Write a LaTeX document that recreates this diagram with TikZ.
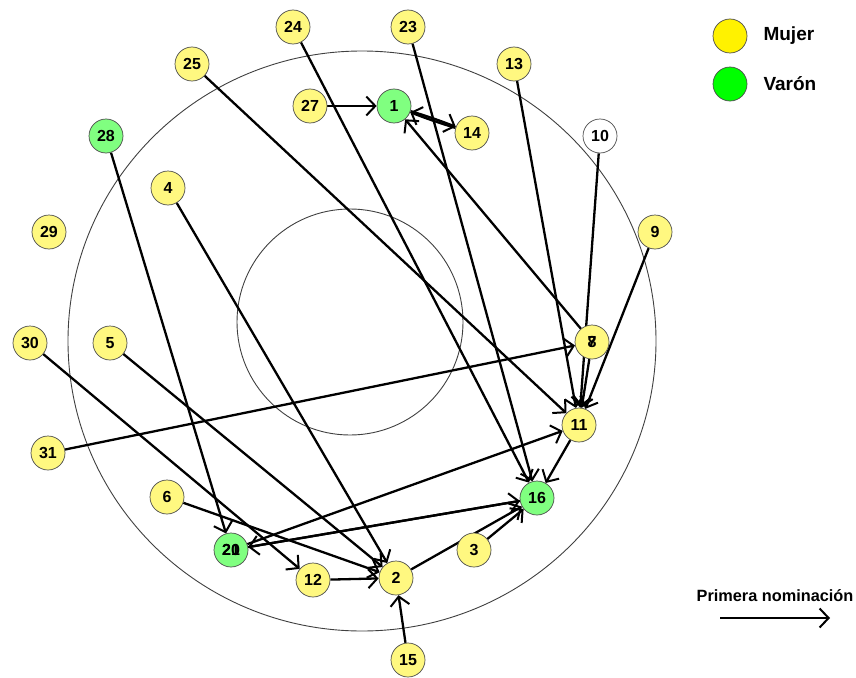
\documentclass[tikz,border=0pt]{standalone}
\usepackage{fontspec}
\setmainfont{Liberation Sans}
\usetikzlibrary{arrows.meta}
\pgfdeclarelayer{bg}
\pgfsetlayers{bg,main}
\tikzset{
  pers/.style={circle, draw=black!70, line width=0.7pt, minimum size=34pt,
    inner sep=0pt, font=\bfseries\fontsize{16}{16}\selectfont},
  fem/.style={pers, fill=yellow!50},
  mas/.style={pers, fill=green!50},
  sinsexo/.style={pers, fill=white},
  nom/.style={line width=2.3pt,
    -{Straight Barb[length=9pt,width=19pt,line width=2pt]}},
  ring/.style={draw=black!75, line width=0.9pt},
  legtxt/.style={anchor=west, font=\bfseries\fontsize{19}{19}\selectfont}
}
\begin{document}
\begin{tikzpicture}[x=1pt,y=-1pt]
\useasboundingbox (0,0) rectangle (856,677);

% people
\node[fem] (n24) at (293,27) {24};
\node[fem] (n23) at (408,27) {23};
\node[fem] (n25) at (192,64) {25};
\node[fem] (n13) at (514,64) {13};
\node[fem] (n27) at (310,106) {27};
\node[mas] (n1)  at (394,106) {1};
\node[fem] (n14) at (472,133) {14};
\node[sinsexo] (n10) at (600,136) {10};
\node[mas] (n28) at (106,136) {28};
\node[fem] (n4)  at (168,188) {4};
\node[fem] (n29) at (49,232) {29};
\node[fem] (n9)  at (655,232) {9};
\node[fem] (n30) at (30,343) {30};
\node[fem] (n5)  at (110,343) {5};
\node[fem] (n7)  at (592,342) {7};
\node[fem, fill=none, draw=none] (n8) at (592,342) {8};
\node[fem] (n11) at (579,425) {11};
\node[fem] (n31) at (48,453) {31};
\node[mas] (n16) at (537,498) {16};
\node[fem] (n6)  at (167,497) {6};
\node[mas] (n20) at (231,550) {20};
\node[mas, fill=none, draw=none] (n21) at (231,550) {21};
\node[fem] (n3)  at (474,550) {3};
\node[fem] (n12) at (313,580) {12};
\node[fem] (n2)  at (396,578) {2};
\node[fem] (n15) at (408,660) {15};

\begin{pgfonlayer}{bg}
% concentric rings
\draw[ring] (362,341) ellipse [x radius=294, y radius=290];
\draw[ring] (350,322) circle [radius=113];

% first nominations
\draw[nom] (n27) -- (n1);
\draw[nom] (n1) to[bend left=2] (n14);
\draw[nom] (n14) to[bend left=2] (n1);
\draw[nom] (n8) -- (n1);
\draw[nom] (n24) -- (n16);
\draw[nom] (n23) -- (n16);
\draw[nom] (n25) -- (n11);
\draw[nom] (n13) -- (n11);
\draw[nom] (n10) -- (n11);
\draw[nom] (n9) -- (n11);
\draw[nom] (n7) -- (n11);
\draw[nom] (n31) -- (n8);
\draw[nom] (n11) -- (n16);
\draw[nom] (n28) -- (n21);
\draw[nom] (n4) -- (n2);
\draw[nom] (n30) -- (n12);
\draw[nom] (n5) -- (n2);
\draw[nom] (n6) -- (n2);
\draw[nom] (n21) -- (n11);
\draw[nom] (n20) -- (n16);
\draw[nom] (n16) -- (n20);
\draw[nom] (n12) -- (n2);
\draw[nom] (n15) -- (n2);
\draw[nom] (n2) -- (n16);
\draw[nom] (n3) -- (n16);
\end{pgfonlayer}

% legend
\node[pers, fill=yellow] (ly) at (730,36) {};
\node[legtxt] (lyt) at (760,36) {Mujer};
\node[pers, fill=green] (lg) at (730,84) {};
\node[legtxt] (lgt) at (760,84) {Varón};
\node[font=\bfseries\fontsize{16.3}{16.3}\selectfont] (lnom) at (775,596) {Primera nominación};
\coordinate (la) at (720,618);
\coordinate (lb) at (830,618);
\draw[nom] (la) -- (lb);
\end{tikzpicture}
\end{document}
